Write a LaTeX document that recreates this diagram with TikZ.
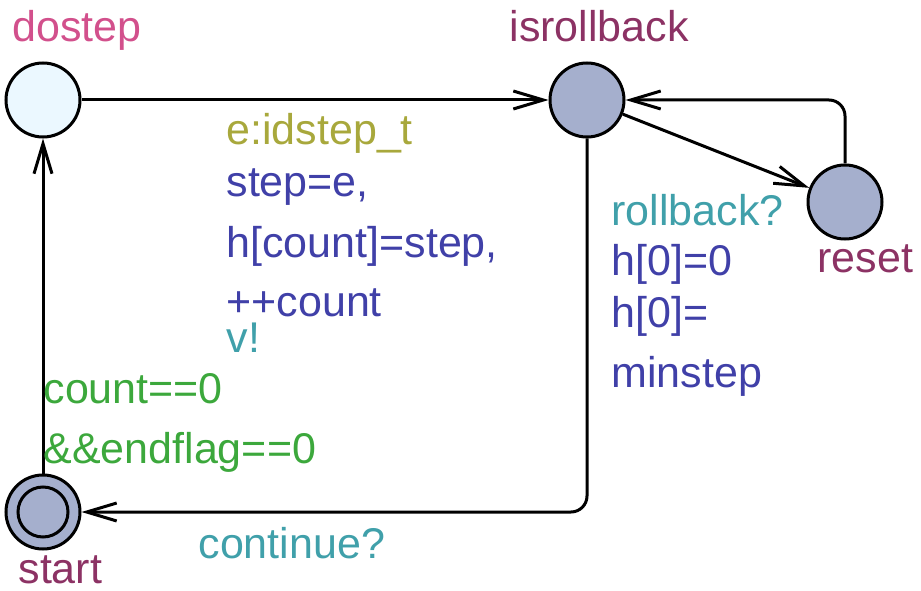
\documentclass[tikz,border=0pt]{standalone}
\usepackage{fontspec}
\setmainfont{Liberation Sans}
\usepackage{xcolor}
\usetikzlibrary{arrows.meta}

\definecolor{locname}{RGB}{140,50,100}
\definecolor{initname}{RGB}{210,80,140}
\definecolor{selectc}{RGB}{168,168,60}
\definecolor{updatec}{RGB}{64,64,168}
\definecolor{syncc}{RGB}{64,160,170}
\definecolor{guardc}{RGB}{60,168,60}
\definecolor{locfill}{RGB}{165,175,205}
\definecolor{committedfill}{RGB}{235,248,255}

\begin{document}
\begin{tikzpicture}[x=1pt,y=-1pt,line width=3pt,
  loc/.style={circle,draw,fill=locfill,minimum size=74pt,inner sep=0pt},
  lbl/.style={anchor=base west,inner sep=0pt,font=\fontsize{43}{50}\selectfont},
  edge/.style={-{Straight Barb[length=30pt,width=18pt]},rounded corners=16pt}]

\useasboundingbox (0,0) rectangle (921,591);

% locations
\node[loc,fill=committedfill] (Dostep) at (43,100) {};
\node[loc] (Isrollback) at (587,100) {};
\node[loc] (Reset) at (845,202) {};
\node[loc] (Start) at (43,512) {};
\node[circle,draw,minimum size=50pt,inner sep=0pt] (StartInner) at (Start.center) {};

% names
\node[lbl,text=initname] (DostepName) at (11,42) {dostep};
\node[lbl,text=locname] (IsrollbackName) at (508,42) {isrollback};
\node[lbl,text=locname] (ResetName) at (816,272) {reset};
\node[lbl,text=locname] (StartName) at (17,583) {start};

% edges
\draw[edge] (Dostep) -- (Isrollback);
\draw[edge] (Isrollback) -- (Reset);
\draw[edge] (Reset.north) |- (Isrollback.east);
\draw[edge] (Isrollback.south) |- (Start.east);
\draw[edge] (Start) -- (Dostep);

% labels dostep -> isrollback
\node[lbl,text=selectc] (SelStep) at (225,145) {e:idstep\_t};
\node[lbl,text=updatec] (UpdStepA) at (225,196) {step=e,};
\node[lbl,text=updatec] (UpdStepB) at (225,257) {h[count]=step,};
\node[lbl,text=updatec] (UpdStepC) at (225,316) {++count};
\node[lbl,text=syncc] (SyncStep) at (225,352) {v!};

% labels start -> dostep
\node[lbl,text=guardc] (GuardA) at (42,403) {count==0};
\node[lbl,text=guardc] (GuardB) at (42,463) {\&\&endflag==0};

% labels isrollback -> start
\node[lbl,text=syncc] (SyncCont) at (197,558) {continue?};

% labels isrollback -> reset
\node[lbl,text=syncc] (SyncRoll) at (610,225) {rollback?};
\node[lbl,text=updatec] (UpdRollA) at (610,275) {h[0]=0};
\node[lbl,text=updatec] (UpdRollB) at (610,327) {h[0]=};
\node[lbl,text=updatec] (UpdRollC) at (610,387) {minstep};

\end{tikzpicture}
\end{document}
